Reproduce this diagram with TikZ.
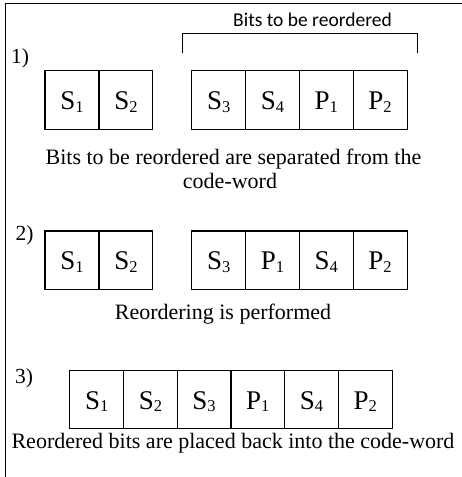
\documentclass[tikz,border=0pt]{standalone}
\usepackage{fontspec}
\setmainfont{Liberation Serif}
\newfontfamily\labsans{Carlito}
\newcommand{\bitsub}[1]{\raisebox{-2.5pt}{\fontsize{16.5}{16.5}\selectfont #1}}
\begin{document}
\begin{tikzpicture}[x=1pt,y=-1pt,
  bitbox/.style={draw,line width=1.1pt,minimum width=54pt,minimum height=58.7pt,inner sep=0pt,
    text height=19pt,text depth=0pt,font=\fontsize{27}{30}\selectfont},
  bitboxn/.style={bitbox,minimum width=53.7pt},
  capt/.style={font=\fontsize{22}{24.5}\selectfont,inner sep=0pt,anchor=base},
  steplab/.style={font=\fontsize{21.5}{24}\selectfont,inner sep=0pt,anchor=base}]
\useasboundingbox (0,0) rectangle (462,477);
% frame (top and left)
\draw[line width=1.4pt] (462,3.5) -- (5.5,3.5) -- (5.5,477);
% step 1
\node[steplab] (n1) at (20,63.3) {1)};
\node[bitbox] (a1) at (72,100) {S\bitsub{1}};
\node[bitbox] (a2) at (125.9,100) {S\bitsub{2}};
\node[bitbox] (a3) at (218.7,100) {S\bitsub{3}};
\node[bitbox] (a4) at (272.5,100) {S\bitsub{4}};
\node[bitbox] (a5) at (326.3,100) {P\bitsub{1}};
\node[bitbox] (a6) at (380.1,100) {P\bitsub{2}};
\coordinate (bl) at (182.7,52.7);
\coordinate (br) at (417.7,52.7);
\draw[line width=1.1pt] (bl) -- (182.7,33.3) -- (417.7,33.3) -- (br);
\node[font=\labsans\fontsize{19.5}{22}\selectfont,inner sep=0pt,anchor=base] (bt) at (312.5,26) {Bits to be reordered};
\node[capt] (c1a) at (233.5,164) {Bits to be reordered are separated from the};
\node[capt] (c1b) at (230,188.3) {code-word};
% step 2
\node[steplab] (n2) at (24.5,240) {2)};
\node[bitbox] (b1) at (72,260.3) {S\bitsub{1}};
\node[bitbox] (b2) at (125.9,260.3) {S\bitsub{2}};
\node[bitbox] (b3) at (218.7,260.3) {S\bitsub{3}};
\node[bitbox] (b4) at (272.5,260.3) {P\bitsub{1}};
\node[bitbox] (b5) at (326.3,260.3) {S\bitsub{4}};
\node[bitbox] (b6) at (380.1,260.3) {P\bitsub{2}};
\node[capt] (c2) at (223,319) {Reordering is performed};
% step 3
\node[steplab] (n3) at (24,383.3) {3)};
\node[bitboxn] (d1) at (96.7,399.5) {S\bitsub{1}};
\node[bitboxn] (d2) at (150.4,399.5) {S\bitsub{2}};
\node[bitboxn] (d3) at (204.1,399.5) {S\bitsub{3}};
\node[bitboxn] (d4) at (257.8,399.5) {P\bitsub{1}};
\node[bitboxn] (d5) at (311.5,399.5) {S\bitsub{4}};
\node[bitboxn] (d6) at (365.2,399.5) {P\bitsub{2}};
\node[capt] (c3) at (233,448.3) {Reordered bits are placed back into the code-word};
\end{tikzpicture}
\end{document}
